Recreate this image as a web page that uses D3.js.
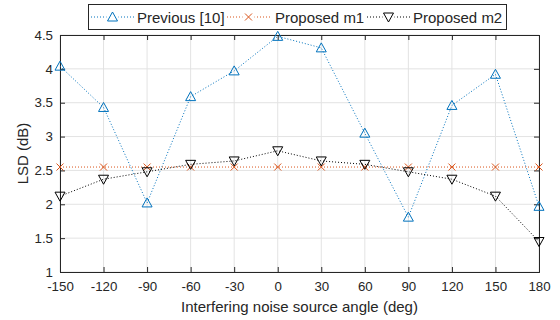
<!DOCTYPE html>
<html>
<head>
<meta charset="utf-8">
<script src="https://cdn.jsdelivr.net/npm/d3@7"></script>
<style>
  html, body { margin: 0; padding: 0; background: #fff; }
  svg { display: block; font-family: "Liberation Sans", Arial, sans-serif; }
</style>
</head>
<body>
<svg id="chart" width="560" height="320"></svg>
<script>
// angles of the interfering source (deg)
const angles = [-150, -120, -90, -60, -30, 0, 30, 60, 90, 120, 150, 180]
// LSD values
const previous = [4.04, 3.43, 2.02, 3.59, 3.97, 4.48, 4.31, 3.05, 1.81, 3.46, 3.92, 1.97]
const proposedM1 = [2.55, 2.55, 2.55, 2.55, 2.55, 2.55, 2.55, 2.55, 2.55, 2.55, 2.55, 2.55]
const proposedM2 = [2.12, 2.37, 2.48, 2.59, 2.64, 2.79, 2.64, 2.59, 2.48, 2.37, 2.12, 1.45]
const yTicks = [1, 1.5, 2, 2.5, 3, 3.5, 4, 4.5]
const seriesNames = ['Previous [10]', 'Proposed m1', 'Proposed m2']

function makeChart() {
  const svg = d3.select('#chart')
  const margin = { left: 60, right: 21, top: 35, bottom: 48 }
  const width = 560, height = 320
  const axisColor = '#262626'

  const x = d3.scaleLinear().domain([-150, 180]).range([margin.left, width - margin.right])
  const y = d3.scaleLinear().domain([1, 4.5]).range([height - margin.bottom, margin.top])

  // grid
  const grid = svg.append('g')
  grid.selectAll('line.gx').data(angles).enter().append('line')
    .attr('x1', d => x(d)).attr('x2', d => x(d))
    .attr('y1', y(1)).attr('y2', y(4.5))
    .attr('stroke', '#e3e3e3').attr('stroke-width', 1)
  grid.selectAll('line.gy').data(yTicks).enter().append('line')
    .attr('y1', d => y(d)).attr('y2', d => y(d))
    .attr('x1', x(-150)).attr('x2', x(180))
    .attr('stroke', '#e3e3e3').attr('stroke-width', 1)

  // axes, ticks pointing inward like MATLAB
  const tickLen = 5
  const bottom = svg.append('g').attr('transform', `translate(0,${y(1)})`)
    .call(d3.axisBottom(x).tickValues(angles).tickSize(-tickLen).tickPadding(10))
  const top = svg.append('g').attr('transform', `translate(0,${y(4.5)})`)
    .call(d3.axisTop(x).tickValues(angles).tickSize(-tickLen).tickFormat(''))
  const left = svg.append('g').attr('transform', `translate(${x(-150)},0)`)
    .call(d3.axisLeft(y).tickValues(yTicks).tickSize(-tickLen).tickPadding(7))
  const right = svg.append('g').attr('transform', `translate(${x(180)},0)`)
    .call(d3.axisRight(y).tickValues(yTicks).tickSize(-tickLen).tickFormat(''))

  ;[bottom, top, left, right].forEach(a => {
    a.select('.domain').attr('stroke', axisColor).attr('stroke-width', 1)
    a.selectAll('.tick line').attr('stroke', axisColor)
    a.selectAll('.tick text').attr('fill', axisColor).style('font-size', '13.3px')
      .style('font-family', '"Liberation Sans", Arial, sans-serif')
  })
  // plain hyphen minus like the original
  bottom.selectAll('.tick text').text(d => String(d))
  left.selectAll('.tick text').text(d => String(d))

  // axis labels
  svg.append('text')
    .attr('x', (x(-150) + x(180)) / 2).attr('y', 312)
    .attr('text-anchor', 'middle').attr('fill', axisColor)
    .style('font-size', '15px')
    .text('Interfering noise source angle (deg)')
  svg.append('text')
    .attr('transform', `translate(28,${(y(1) + y(4.5)) / 2}) rotate(-90)`)
    .attr('text-anchor', 'middle').attr('fill', axisColor)
    .style('font-size', '15px')
    .text('LSD (dB)')

  const series = [
    { name: seriesNames[0], values: previous, color: '#0072BD', marker: 'up' },
    { name: seriesNames[1], values: proposedM1, color: '#D95319', marker: 'x' },
    { name: seriesNames[2], values: proposedM2, color: '#000000', marker: 'down' }
  ]

  const line = d3.line().x(d => x(d[0])).y(d => y(d[1]))

  function drawMarker(g, type, color) {
    if (type === 'up') {
      g.append('path').attr('d', 'M0,-5 L5,4 L-5,4 Z')
        .attr('fill', 'none').attr('stroke', color).attr('stroke-width', 1)
    } else if (type === 'down') {
      g.append('path').attr('d', 'M0,5 L5,-4 L-5,-4 Z')
        .attr('fill', 'none').attr('stroke', color).attr('stroke-width', 1)
    } else {
      g.append('path').attr('d', 'M-3.5,-3.5 L3.5,3.5 M-3.5,3.5 L3.5,-3.5')
        .attr('fill', 'none').attr('stroke', color).attr('stroke-width', 1)
    }
  }

  series.forEach(s => {
    const pts = angles.map((a, i) => [a, s.values[i]])
    svg.append('path')
      .attr('d', line(pts))
      .attr('fill', 'none')
      .attr('stroke', s.color)
      .attr('stroke-width', 1)
      .attr('stroke-dasharray', '1,2')
    pts.forEach(p => {
      const g = svg.append('g').attr('transform', `translate(${x(p[0])},${y(p[1])})`)
      drawMarker(g, s.marker, s.color)
    })
  })

  // legend
  const legend = svg.append('g')
  legend.append('rect')
    .attr('x', 88.5).attr('y', 4.5).attr('width', 418).attr('height', 25)
    .attr('fill', '#fff').attr('stroke', axisColor).attr('stroke-width', 1)
  const legendItems = [
    { x0: 91, text: 137 },
    { x0: 227, text: 275 },
    { x0: 367, text: 413 }
  ]
  series.forEach((s, i) => {
    const it = legendItems[i]
    const ly = 17
    legend.append('line')
      .attr('x1', it.x0).attr('x2', it.x0 + 43).attr('y1', ly).attr('y2', ly)
      .attr('stroke', s.color).attr('stroke-width', 1).attr('stroke-dasharray', '1,2')
    const g = legend.append('g').attr('transform', `translate(${it.x0 + 21.5},${ly})`)
    g.append('rect').attr('x', -6).attr('y', -6).attr('width', 12).attr('height', 12).attr('fill', '#fff')
    drawMarker(g, s.marker, s.color)
    legend.append('text')
      .attr('x', it.text).attr('y', ly + 5.5)
      .attr('fill', axisColor).style('font-size', '15px')
      .text(s.name)
  })
}

window.onload = makeChart
</script>
</body>
</html>
